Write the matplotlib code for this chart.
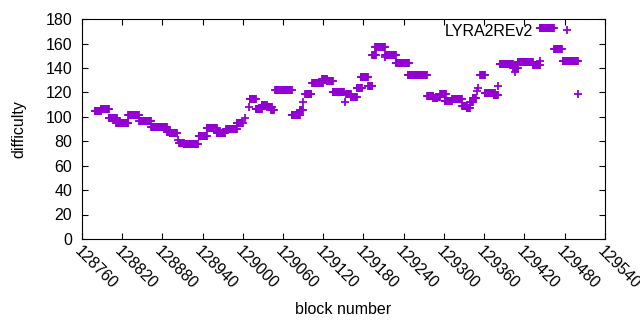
import matplotlib
matplotlib.use('Agg')
import matplotlib.pyplot as plt
import matplotlib.transforms as mtransforms
import numpy as np

# difficulty: runs of blocks with the same difficulty
# (first block, last block, difficulty)
seg_start = [128779, 128788, 128800, 128811, 128829, 128845, 128863, 128875, 128887, 128891,
             128904, 128905, 128912, 128934, 128946, 128961, 128975, 128991, 129003, 129009,
             129010, 129019, 129028, 129036, 129042, 129048, 129073, 129085, 129090, 129093,
             129103, 129118, 129125, 129134, 129152, 129154, 129161, 129170, 129176, 129187,
             129193, 129197, 129212, 129212, 129228, 129246, 129275, 129284, 129288, 129294,
             129301, 129312, 129327, 129334, 129339, 129343, 129349, 129351, 129354, 129361,
             129374, 129380, 129383, 129406, 129403, 129410, 129433, 129443, 129443, 129464,
             129477, 129500]
seg_end = [128788, 128800, 128812, 128829, 128845, 128863, 128875, 128887, 128891, 128902,
           128904, 128912, 128933, 128946, 128961, 128973, 128991, 129000, 129003, 129009,
           129019, 129028, 129036, 129043, 129046, 129073, 129085, 129090, 129090, 129102,
           129119, 129125, 129134, 129151, 129152, 129161, 129170, 129178, 129187, 129193,
           129198, 129212, 129212, 129228, 129248, 129275, 129284, 129290, 129294, 129303,
           129312, 129327, 129334, 129339, 129343, 129348, 129349, 129351, 129361, 129376,
           129380, 129380, 129403, 129406, 129410, 129433, 129443, 129443, 129464, 129476,
           129500, 129500]
seg_diff = [105.0, 106.5, 99.4, 95.3, 101.2, 96.3, 91.4, 91.9, 87.8, 86.5,
            81.0, 78.8, 77.5, 84.0, 90.8, 87.0, 89.7, 94.6, 99.0, 107.7,
            115.0, 106.0, 110.0, 108.2, 105.5, 121.7, 101.4, 105.5, 112.0, 118.9,
            127.4, 130.6, 129.0, 120.5, 112.3, 119.0, 116.4, 124.0, 132.3, 125.0,
            150.3, 157.3, 149.0, 150.3, 143.7, 134.2, 116.7, 115.3, 116.0, 118.4,
            112.9, 115.0, 109.0, 107.4, 112.3, 115.6, 121.0, 124.0, 134.0, 119.2,
            117.5, 125.0, 143.0, 137.0, 139.6, 145.0, 142.3, 145.6, 172.9, 155.2,
            145.6, 118.4]

x_ticks = list(range(128760, 129541, 60))
y_ticks = list(range(0, 181, 20))

blocks = []
diffs = []
for s, e, d in zip(seg_start, seg_end, seg_diff):
    b = np.arange(s, e + 1)
    blocks.extend(b)
    diffs.extend([d] * len(b))

plt.rcParams['font.family'] = ['Liberation Sans', 'DejaVu Sans']
fs = 11.5
fig = plt.figure(figsize=(6.4, 3.3), dpi=100)
ax = fig.add_axes([0.128, 0.276, 0.817, 0.666])

ax.plot(blocks, diffs, linestyle='none', marker='+', ms=6.2, mew=1.3,
        color='#9400d3', label='LYRA2REv2')

ax.set_xlim(128760, 129540)
ax.set_ylim(0, 180)
ax.set_xticks(x_ticks)
ax.set_yticks(y_ticks)
ax.set_xticklabels([str(t) for t in x_ticks], rotation=-45, ha='left', va='top',
                   rotation_mode='anchor')
shift = mtransforms.ScaledTranslation(6 / 100, -3 / 100, fig.dpi_scale_trans)
for lab in ax.get_xticklabels():
    lab.set_transform(lab.get_transform() + shift)
ax.tick_params(direction='in', top=True, right=True, labelsize=fs, length=4)
ax.tick_params(axis='y', pad=7)
ax.set_xlabel('block number', fontsize=fs, labelpad=7)
ax.set_ylabel('difficulty', fontsize=fs, labelpad=14)

ax.legend(loc='upper right', frameon=False, markerfirst=False, fontsize=fs,
          bbox_to_anchor=(0.958, 0.98), borderaxespad=0, borderpad=0,
          handlelength=2, handletextpad=1.1)

fig.savefig('out.png', dpi=100)
